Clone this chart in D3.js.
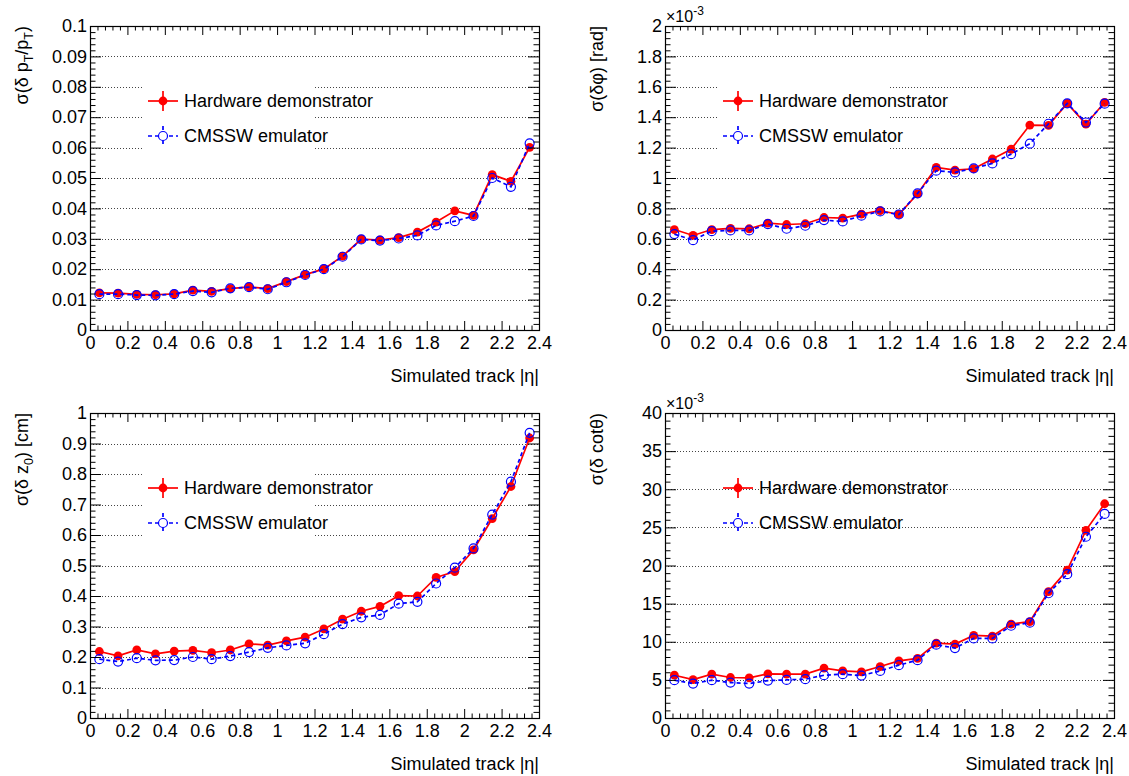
<!DOCTYPE html>
<html>
<head>
<meta charset="utf-8">
<script src="https://cdn.jsdelivr.net/npm/d3@7"></script>
<style>
  html, body { margin: 0; padding: 0; background: #fff; }
  svg { display: block; font-family: "Liberation Sans", Arial, Helvetica, sans-serif; }
</style>
</head>
<body>
<svg id="chart" width="1129" height="776"></svg>
<script>
// |eta| bin centres
const etaBins = [0.05, 0.15, 0.25, 0.35, 0.45, 0.55, 0.65, 0.75, 0.85, 0.95, 1.05, 1.15,
                 1.25, 1.35, 1.45, 1.55, 1.65, 1.75, 1.85, 1.95, 2.05, 2.15, 2.25, 2.35];

// sigma(delta pT / pT)
const ptHardware = [0.0122, 0.0121, 0.0117, 0.0116, 0.0119, 0.0131, 0.0127, 0.0136, 0.0142, 0.0136, 0.0159, 0.0182,
                    0.0201, 0.0243, 0.0299, 0.0296, 0.0304, 0.0322, 0.0355, 0.0392, 0.0377, 0.0511, 0.0489, 0.0601];
const ptEmulator = [0.0118, 0.0118, 0.0115, 0.0114, 0.0118, 0.0128, 0.0124, 0.0137, 0.0141, 0.0134, 0.0157, 0.0181,
                    0.0200, 0.0241, 0.0298, 0.0294, 0.0301, 0.0311, 0.0344, 0.0358, 0.0375, 0.0500, 0.0471, 0.0614];

// sigma(delta phi) [rad], in units of 1e-3
const phiHardware = [0.661, 0.622, 0.661, 0.668, 0.666, 0.703, 0.694, 0.699, 0.740, 0.736, 0.762, 0.786,
                     0.760, 0.896, 1.070, 1.052, 1.061, 1.125, 1.189, 1.348, 1.346, 1.491, 1.354, 1.498];
const phiEmulator = [0.631, 0.591, 0.650, 0.655, 0.655, 0.697, 0.666, 0.686, 0.723, 0.714, 0.752, 0.780,
                     0.760, 0.899, 1.048, 1.037, 1.063, 1.096, 1.157, 1.226, 1.357, 1.491, 1.365, 1.489];

// sigma(delta z0) [cm]
const z0Hardware = [0.218, 0.204, 0.223, 0.210, 0.219, 0.222, 0.214, 0.223, 0.243, 0.239, 0.253, 0.265,
                    0.292, 0.324, 0.350, 0.366, 0.401, 0.400, 0.461, 0.480, 0.551, 0.654, 0.759, 0.918];
const z0Emulator = [0.193, 0.185, 0.196, 0.189, 0.190, 0.200, 0.193, 0.203, 0.216, 0.230, 0.238, 0.245,
                    0.275, 0.308, 0.330, 0.338, 0.375, 0.381, 0.441, 0.493, 0.556, 0.667, 0.775, 0.935];

// sigma(delta cot theta), in units of 1e-3
const cotHardware = [5.61, 5.04, 5.75, 5.31, 5.26, 5.79, 5.75, 5.75, 6.54, 6.18, 6.05, 6.75,
                     7.50, 7.81, 9.82, 9.69, 10.83, 10.75, 12.32, 12.63, 16.58, 19.39, 24.61, 28.10];
const cotEmulator = [4.96, 4.52, 4.96, 4.65, 4.52, 4.91, 5.00, 5.09, 5.61, 5.75, 5.57, 6.18,
                     6.93, 7.59, 9.61, 9.17, 10.44, 10.44, 12.10, 12.50, 16.36, 18.86, 23.77, 26.76];

// axis ticks
const xTicks  = [0, 0.2, 0.4, 0.6, 0.8, 1, 1.2, 1.4, 1.6, 1.8, 2, 2.2, 2.4];
const ptTicks  = [0, 0.01, 0.02, 0.03, 0.04, 0.05, 0.06, 0.07, 0.08, 0.09, 0.1];
const phiTicks = [0, 0.2, 0.4, 0.6, 0.8, 1, 1.2, 1.4, 1.6, 1.8, 2];
const z0Ticks  = [0, 0.1, 0.2, 0.3, 0.4, 0.5, 0.6, 0.7, 0.8, 0.9, 1];
const cotTicks = [0, 5, 10, 15, 20, 25, 30, 35, 40];

const legendLabels = ["Hardware demonstrator", "CMSSW emulator"];
const xTitle = "Simulated track |\u03b7|";

const svg = d3.select("#chart");
const FONT = 18;
const RED = "#ff0000", BLUE = "#0000ff";

const panels = [
  { l: 90,  r: 539,  t: 26,  b: 330, ticks: ptTicks,  hw: ptHardware,  emu: ptEmulator,
    title: [["\u03c3(\u03b4 p"], ["T", "sub"], ["/p"], ["T", "sub"], [")"]], legendFill: true, exponent: false },
  { l: 665, r: 1114, t: 26,  b: 330, ticks: phiTicks, hw: phiHardware, emu: phiEmulator,
    title: [["\u03c3(\u03b4\u03c6) [rad]"]], legendFill: true, exponent: true },
  { l: 90,  r: 539,  t: 413, b: 718, ticks: z0Ticks,  hw: z0Hardware,  emu: z0Emulator,
    title: [["\u03c3(\u03b4 z"], ["0", "sub"], [") [cm]"]], legendFill: true, exponent: false },
  { l: 665, r: 1114, t: 413, b: 718, ticks: cotTicks, hw: cotHardware, emu: cotEmulator,
    title: [["\u03c3(\u03b4 cot\u03b8)"]], legendFill: false, exponent: true }
];

function minorValues(lo, hi, step, majors) {
  const out = [];
  const n = Math.round((hi - lo) / step);
  for (let i = 0; i <= n; i++) {
    const v = lo + i * step;
    if (!majors.some(m => Math.abs(m - v) < step * 1e-3)) out.push(v);
  }
  return out;
}

function styleAxis(sel) {
  sel.select(".domain").remove();
  sel.attr("font-family", null).attr("font-size", null);
  sel.selectAll(".tick line").attr("stroke", "#000");
  sel.selectAll(".tick text").attr("fill", "#000").style("font-size", FONT + "px");
}

function drawPanel(p) {
  const g = svg.append("g");
  const yMax = p.ticks[p.ticks.length - 1];
  const yStep = p.ticks[1] - p.ticks[0];
  const x = d3.scaleLinear().domain([0, 2.4]).range([p.l, p.r]);
  const y = d3.scaleLinear().domain([0, yMax]).range([p.b, p.t]);

  // horizontal dotted grid
  g.append("g").selectAll("line").data(p.ticks.slice(1, -1)).join("line")
    .attr("x1", p.l).attr("x2", p.r)
    .attr("y1", d => Math.round(y(d)) + 0.5).attr("y2", d => Math.round(y(d)) + 0.5)
    .attr("stroke", "#444").attr("stroke-width", 1).attr("stroke-dasharray", "1,2");

  // legend background
  if (p.legendFill) {
    g.append("rect")
      .attr("x", p.l + 52).attr("y", p.t + 47).attr("width", 171).attr("height", 91)
      .attr("fill", "#fff");
  }

  const pts = arr => etaBins.map((e, i) => [e, arr[i]]);
  const line = d3.line().x(d => x(d[0])).y(d => y(d[1]));

  // hardware series: solid red, filled markers
  g.append("path").datum(pts(p.hw)).attr("d", line)
    .attr("fill", "none").attr("stroke", RED).attr("stroke-width", 1.7);
  g.append("g").selectAll("circle").data(pts(p.hw)).join("circle")
    .attr("cx", d => x(d[0])).attr("cy", d => y(d[1])).attr("r", 4.4).attr("fill", RED);

  // emulator series: dashed blue, open markers
  g.append("path").datum(pts(p.emu)).attr("d", line)
    .attr("fill", "none").attr("stroke", BLUE).attr("stroke-width", 1.7).attr("stroke-dasharray", "4,3");
  g.append("g").selectAll("circle").data(pts(p.emu)).join("circle")
    .attr("cx", d => x(d[0])).attr("cy", d => y(d[1])).attr("r", 4.5)
    .attr("fill", "none").attr("stroke", BLUE).attr("stroke-width", 1.2);

  // frame
  g.append("rect")
    .attr("x", p.l + 0.5).attr("y", p.t + 0.5).attr("width", p.r - p.l).attr("height", p.b - p.t)
    .attr("fill", "none").attr("stroke", "#000").attr("stroke-width", 1.2);

  const xMinor = minorValues(0, 2.4, 0.04, xTicks);
  const yMinor = minorValues(0, yMax, yStep / 5, p.ticks);

  // bottom axis with labels, ticks pointing inwards
  g.append("g").attr("transform", `translate(0,${p.b})`)
    .call(d3.axisBottom(x).tickValues(xTicks).tickSizeInner(-9).tickSizeOuter(0).tickPadding(6)
      .tickFormat(d3.format("~g"))).call(styleAxis);
  g.append("g").attr("transform", `translate(0,${p.b})`)
    .call(d3.axisBottom(x).tickValues(xMinor).tickSizeInner(-4.5).tickSizeOuter(0).tickFormat("")).call(styleAxis);
  // top axis ticks
  g.append("g").attr("transform", `translate(0,${p.t})`)
    .call(d3.axisTop(x).tickValues(xTicks).tickSizeInner(-9).tickSizeOuter(0).tickFormat("")).call(styleAxis);
  g.append("g").attr("transform", `translate(0,${p.t})`)
    .call(d3.axisTop(x).tickValues(xMinor).tickSizeInner(-4.5).tickSizeOuter(0).tickFormat("")).call(styleAxis);

  // left axis with labels
  g.append("g").attr("transform", `translate(${p.l},0)`)
    .call(d3.axisLeft(y).tickValues(p.ticks).tickSizeInner(-11).tickSizeOuter(0).tickPadding(3)
      .tickFormat(d3.format("~g"))).call(styleAxis);
  g.append("g").attr("transform", `translate(${p.l},0)`)
    .call(d3.axisLeft(y).tickValues(yMinor).tickSizeInner(-5.5).tickSizeOuter(0).tickFormat("")).call(styleAxis);
  // right axis ticks
  g.append("g").attr("transform", `translate(${p.r},0)`)
    .call(d3.axisRight(y).tickValues(p.ticks).tickSizeInner(-11).tickSizeOuter(0).tickFormat("")).call(styleAxis);
  g.append("g").attr("transform", `translate(${p.r},0)`)
    .call(d3.axisRight(y).tickValues(yMinor).tickSizeInner(-5.5).tickSizeOuter(0).tickFormat("")).call(styleAxis);

  // exponent label
  if (p.exponent) {
    const ex = g.append("text").attr("x", p.l + 1).attr("y", p.t - 4)
      .style("font-size", "16px").attr("fill", "#000");
    ex.append("tspan").text("\u00d710");
    ex.append("tspan").attr("dy", -7).style("font-size", "12px").text("-3");
  }

  // x title
  g.append("text").attr("x", p.r).attr("y", p.b + 52).attr("text-anchor", "end")
    .style("font-size", FONT + "px").attr("fill", "#000").text(xTitle);

  // y title, rotated, aligned with the top of the frame
  const yt = g.append("text")
    .attr("transform", `translate(${p.l - 62},${p.t}) rotate(-90)`)
    .attr("text-anchor", "end").style("font-size", FONT + "px").attr("fill", "#000");
  let shift = 0;
  p.title.forEach(([txt, kind]) => {
    const ts = yt.append("tspan").text(txt);
    if (kind === "sub") {
      ts.attr("dy", 5 - shift).style("font-size", "12.5px");
      shift = 5;
    } else if (shift) {
      ts.attr("dy", -shift);
      shift = 0;
    }
  });

  // legend entries
  const lx = p.l + 73;
  const rows = [
    { y: p.t + 75, color: RED, dash: null, filled: true, label: legendLabels[0] },
    { y: p.t + 110, color: BLUE, dash: "4,3", filled: false, label: legendLabels[1] }
  ];
  rows.forEach(rw => {
    const lg = g.append("g");
    lg.append("line").attr("x1", lx - 15).attr("x2", lx + 15).attr("y1", rw.y).attr("y2", rw.y)
      .attr("stroke", rw.color).attr("stroke-width", 1.7).attr("stroke-dasharray", rw.dash);
    lg.append("line").attr("x1", lx).attr("x2", lx).attr("y1", rw.y - 10).attr("y2", rw.y + 10)
      .attr("stroke", rw.color).attr("stroke-width", 1.7).attr("stroke-dasharray", rw.dash);
    lg.append("circle").attr("cx", lx).attr("cy", rw.y).attr("r", rw.filled ? 4.4 : 4.5)
      .attr("fill", rw.filled ? rw.color : "#fff").attr("stroke", rw.filled ? "none" : rw.color)
      .attr("stroke-width", 1.2);
    lg.append("text").attr("x", lx + 21).attr("y", rw.y).attr("dy", "0.36em")
      .style("font-size", FONT + "px").attr("fill", "#000").text(rw.label);
  });
}

panels.forEach(drawPanel);
</script>
</body>
</html>
